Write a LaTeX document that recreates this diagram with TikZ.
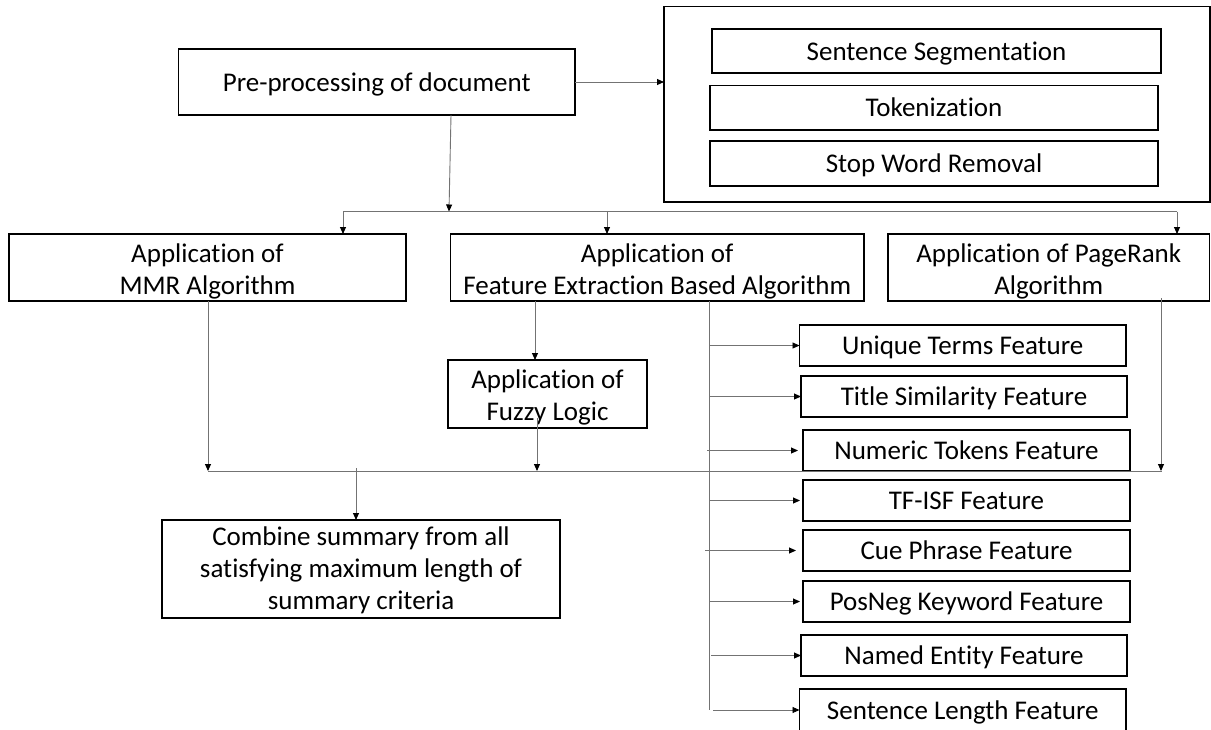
\documentclass[tikz,border=0pt]{standalone}
\usepackage{fontspec}
\setmainfont{Carlito}[Ligatures={NoCommon}]
\usetikzlibrary{arrows.meta,calc}
\newcommand\mystrut{\rule[-5.5pt]{0pt}{29pt}}
\newcommand\mybox[7][]{%
  \node[box, minimum width={#5-#3}, minimum height={#6-#4}] (#2) at ({(#3+#5)/2},{(#4+#6)/2}) {};
  \node[boxtext, #1] at (#2.center) {#7};}
\begin{document}
\begin{tikzpicture}[x=1pt,y=-1pt,
  box/.style={draw=black, line width=1.2pt, inner sep=0pt, outer sep=0pt},
  boxtext/.style={align=center, inner sep=0pt, font=\fontsize{27}{32}\selectfont,
    execute at begin node={\mystrut}, execute at end node={\mystrut}},
  two/.style={yshift=-4pt},
  three/.style={yshift=-2pt},
  conn/.style={draw=black!55, line width=0.9pt},
  arr/.style={conn, -{Triangle[length=7pt,width=6pt,color=black]}}]
\useasboundingbox (0,0) rectangle (1211,729);
\fill[white] (0,0) rectangle (1211,729);

% top row
\mybox{pre}{178.5}{49}{575}{115}{Pre-processing of document}
\node[box, minimum width=546, minimum height=195.5] (outer) at (937,104.25) {};
\mybox{ss}{712}{29}{1161}{73}{Sentence Segmentation}
\mybox{tok}{710}{85.5}{1158}{130}{Tokenization}
\mybox{swr}{710}{141}{1158}{186}{Stop Word Removal}

% second row
\mybox[two]{mmr}{9}{234}{406}{301}{Application of\\MMR Algorithm}
\mybox[two]{feat}{450.5}{234}{864}{301}{Application of\\Feature Extraction Based Algorithm}
\mybox[two]{pr}{888}{234}{1209.5}{301}{Application of PageRank\\Algorithm}
\mybox[two]{fuzzy}{448}{360}{647}{428}{Application of\\Fuzzy Logic}
\mybox[three]{comb}{162}{520}{560}{618}{Combine summary from all\\satisfying maximum length of\\summary criteria}

% feature boxes
\mybox{f1}{799.5}{325}{1126}{366}{Unique Terms Feature}
\mybox{f2}{801}{376}{1127}{417}{Title Similarity Feature}
\mybox{f3}{803}{430}{1130}{471}{Numeric Tokens Feature}
\mybox{f4}{803}{480}{1130}{521}{TF-ISF Feature}
\mybox{f5}{803}{530}{1130}{571}{Cue Phrase Feature}
\mybox{f6}{803}{581}{1130}{622}{PosNeg Keyword Feature}
\mybox{f7}{801}{635}{1127}{676}{Named Entity Feature}
\mybox{f8}{799.5}{689}{1126}{731}{Sentence Length Feature}

% junction coordinates
\coordinate (px) at (451,0);
\coordinate (hl) at (343,211.5);
\coordinate (hm) at (607,211.5);
\coordinate (hr) at (1177,211.5);
\coordinate (jt) at (449,211.5);
\coordinate (bl) at (208,471);
\coordinate (br) at (1162,471);
\coordinate (fx) at (535,0);
\coordinate (fy) at (537,418);
\coordinate (pry) at (1161,298);
\coordinate (cx) at (356,468);
\coordinate (vx) at (709,0);
\coordinate (vend) at (709,710);

% connectors
\draw[arr] (pre.east) -- (pre.east -| outer.west);
\draw[arr] (pre.south -| px) -- (jt);
\draw[conn] (hl) -- (hr);
\draw[arr] (hl) -- (hl |- mmr.north);
\draw[arr] (hm) -- (hm |- feat.north);
\draw[arr] (hr) -- (hr |- pr.north);

\draw[arr] (mmr.south -| bl) -- (bl);
\draw[arr] (feat.south -| fx) -- (fuzzy.north -| fx);
\draw[arr] (fy) -- (fy |- bl);
\draw[arr] (pry) -- (pry |- bl);
\draw[conn] (bl) -- (br);
\draw[arr] (cx) -- (comb.north -| cx);

\draw[conn] (feat.south -| vx) -- (vend);
\draw[arr] (f1.west -| vx) -- (f1.west);
\draw[arr] (f2.west -| vx) -- (f2.west);
\draw[arr, shorten >=5pt] ([xshift=-2pt]f3.west -| vx) -- (f3.west);
\draw[arr, shorten >=3pt] (f4.west -| vx) -- (f4.west);
\draw[arr, shorten >=7pt] ([xshift=-4pt]f5.west -| vx) -- (f5.west);
\draw[arr, shorten >=3pt] (f6.west -| vx) -- (f6.west);
\draw[arr] ([xshift=2pt]f7.west -| vx) -- (f7.west);
\draw[arr] ([xshift=4pt]vend) -- (vend -| f8.west);
\end{tikzpicture}
\end{document}
